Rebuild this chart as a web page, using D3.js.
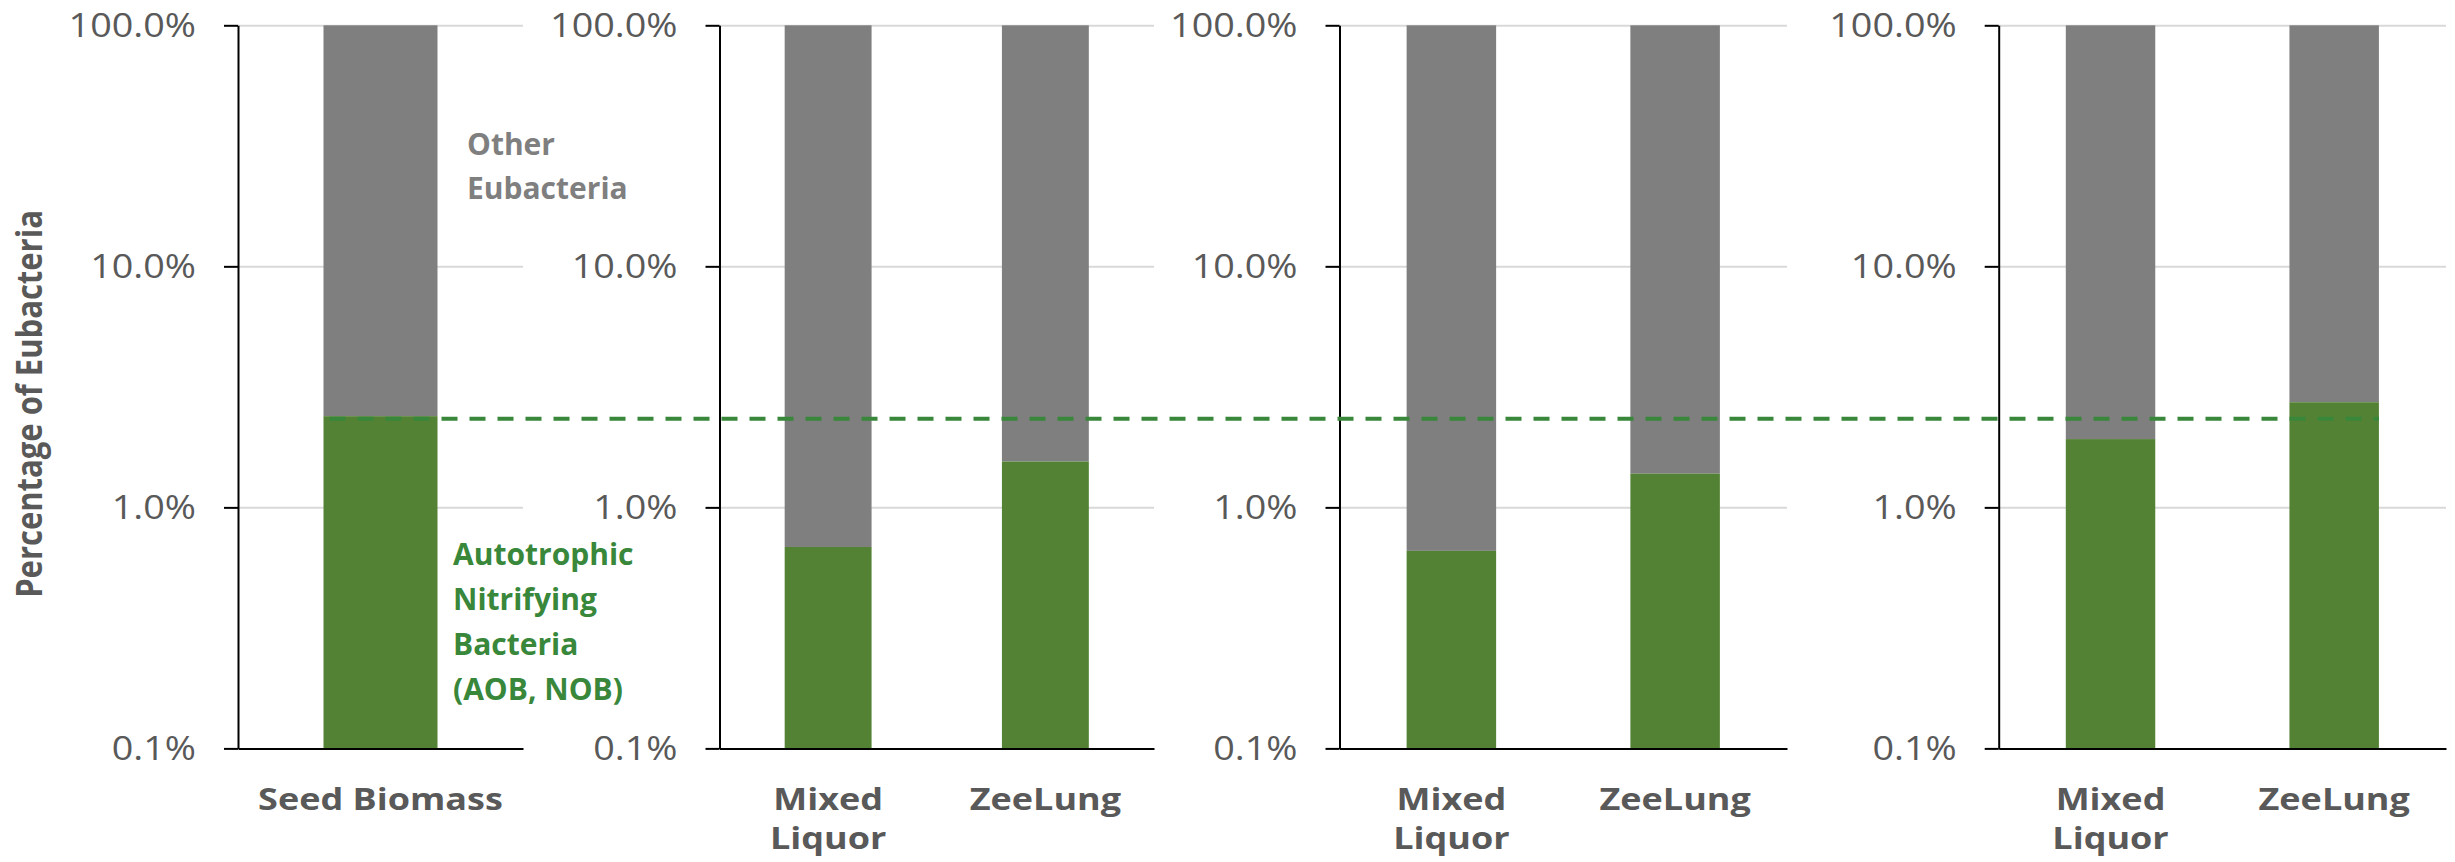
<!DOCTYPE html>
<html>
<head>
<meta charset="utf-8">
<script src="https://cdn.jsdelivr.net/npm/d3@7"></script>
<style>
  html, body { margin: 0; padding: 0; background: #ffffff; }
  svg { display: block; }
</style>
</head>
<body>
<svg id="chart" width="2455" height="862"></svg>
<script>
// ---- data (percent of total Eubacteria) ----
const seedCategories = ["Seed Biomass"];
const comparisonCategories = ["Mixed Liquor", "ZeeLung"];
const seedNitrifying = [2.39];
const panelBNitrifying = [0.685, 1.55];
const panelCNitrifying = [0.66, 1.38];
const panelDNitrifying = [1.92, 2.73];
const totalEubacteria = 100;
const axisFloor = 0.1;
const percentTicks = [0.1, 1, 10, 100];
const seedReferenceLevel = 2.33;
const otherLabelLines = ["Other", "Eubacteria"];
const nitrifierLabelLines = ["Autotrophic", "Nitrifying", "Bacteria", "(AOB, NOB)"];
const yAxisTitle = "Percentage of Eubacteria";

// ---- layout ----
const panels = [
  { categories: seedCategories, values: seedNitrifying, x0: 238, x1: 523 },
  { categories: comparisonCategories, values: panelBNitrifying, x0: 719.5, x1: 1154 },
  { categories: comparisonCategories, values: panelCNitrifying, x0: 1339.5, x1: 1787 },
  { categories: comparisonCategories, values: panelDNitrifying, x0: 1998.7, x1: 2446 }
];
const plotTop = 25.3, plotBottom = 748.4;
const GREEN_BAR = "#548235", GREY_BAR = "#7f7f7f";
const TEXT_GREY = "#595959", GREEN_TEXT = "#38873a";
const STRETCH = 1.18;

const svg = d3.select("#chart");
svg.append("rect").attr("width", 2455).attr("height", 862).attr("fill", "#fff");

const y = d3.scaleLog().domain([axisFloor, totalEubacteria]).range([plotBottom, plotTop]);
const pct = d3.format(".1%");

const bandScales = [];

panels.forEach(p => {
  const x = d3.scaleBand().domain(p.categories).range([p.x0, p.x1])
    .paddingInner(0.6).paddingOuter(0.3);
  bandScales.push(x);
  const g = svg.append("g");

  // horizontal gridlines
  const grid = g.append("g").attr("transform", `translate(${p.x0},0)`)
    .call(d3.axisLeft(y).tickValues(percentTicks.slice(1))
      .tickSize(-(p.x1 - p.x0)).tickFormat(""));
  grid.select(".domain").remove();
  grid.selectAll("line").attr("stroke", "#d9d9d9").attr("stroke-width", 2);

  const rows = p.categories.map((c, i) => ({ c, v: p.values[i] }));

  // other eubacteria (upper segment)
  g.selectAll(".other").data(rows).join("rect")
    .attr("x", d => x(d.c)).attr("width", x.bandwidth())
    .attr("y", y(totalEubacteria))
    .attr("height", d => y(d.v) - y(totalEubacteria))
    .attr("fill", GREY_BAR);

  // nitrifying bacteria (lower segment)
  g.selectAll(".nitr").data(rows).join("rect")
    .attr("x", d => x(d.c)).attr("width", x.bandwidth())
    .attr("y", d => y(d.v))
    .attr("height", d => y(axisFloor) - y(d.v))
    .attr("fill", GREEN_BAR);

  // y axis
  const ya = g.append("g").attr("transform", `translate(${p.x0},0)`)
    .call(d3.axisLeft(y).tickValues(percentTicks).tickSize(14).tickSizeOuter(0));
  ya.selectAll("text").remove();
  ya.selectAll("line, path").attr("stroke", "#000").attr("stroke-width", 2);
  ya.selectAll(".tick").append("text")
    .attr("transform", `translate(-42,11.5) scale(${STRETCH},1)`)
    .attr("text-anchor", "end")
    .attr("font-family", "'Open Sans', sans-serif")
    .attr("font-size", 32)
    .attr("fill", TEXT_GREY)
    .text(d => pct(d / 100));

  // x axis
  const xa = g.append("g").attr("transform", `translate(0,${y(axisFloor)})`)
    .call(d3.axisBottom(x).tickSize(0).tickSizeOuter(0));
  xa.selectAll("text").remove();
  xa.select(".domain").attr("stroke", "#000").attr("stroke-width", 2);

  // category labels, wrapped to the band step when too wide
  rows.forEach(d => {
    const cx = x(d.c) + x.bandwidth() / 2;
    const t = g.append("text")
      .attr("transform", `translate(${cx},${plotBottom + 61.6}) scale(${STRETCH + 0.02},1)`)
      .attr("text-anchor", "middle")
      .attr("font-family", "'Open Sans', sans-serif")
      .attr("font-weight", 700)
      .attr("font-size", 30)
      .attr("fill", TEXT_GREY)
      .text(d.c);
    const w = t.node().getComputedTextLength() * (STRETCH + 0.02);
    if (w > x.step() * 0.95 && d.c.includes(" ")) {
      const words = d.c.split(" ");
      t.text(null);
      words.forEach((wd, i) => {
        t.append("tspan").attr("x", 0).attr("dy", i === 0 ? 0 : 39.5).text(wd);
      });
    }
  });
});

// seed reference level carried across all panels
const firstX = bandScales[0];
const lastX = bandScales[bandScales.length - 1];
const lastCat = panels[panels.length - 1].categories.slice(-1)[0];
svg.append("line")
  .attr("x1", firstX(seedCategories[0]))
  .attr("x2", lastX(lastCat) + lastX.bandwidth())
  .attr("y1", y(seedReferenceLevel)).attr("y2", y(seedReferenceLevel))
  .attr("stroke", GREEN_TEXT).attr("stroke-width", 4)
  .attr("stroke-dasharray", "16,12").attr("stroke-dashoffset", 22);

// y axis title
svg.append("text")
  .attr("transform", "translate(42,404) rotate(-90) scale(1,1.18)")
  .attr("text-anchor", "middle")
  .attr("font-family", "'Open Sans', sans-serif")
  .attr("font-weight", 700)
  .attr("font-size", 31)
  .attr("fill", TEXT_GREY)
  .text(yAxisTitle);

// series annotations
const otherText = svg.append("text")
  .attr("font-family", "'Open Sans', sans-serif").attr("font-weight", 700)
  .attr("font-size", 30).attr("fill", GREY_BAR);
otherLabelLines.forEach((s, i) => {
  otherText.append("tspan").attr("x", 467).attr("y", 155 + i * 43.5).text(s);
});

const nitrText = svg.append("text")
  .attr("font-family", "'Open Sans', sans-serif").attr("font-weight", 700)
  .attr("font-size", 30).attr("fill", GREEN_TEXT);
nitrifierLabelLines.forEach((s, i) => {
  nitrText.append("tspan").attr("x", 453).attr("y", 565 + i * 45).text(s);
});
</script>
</body>
</html>
